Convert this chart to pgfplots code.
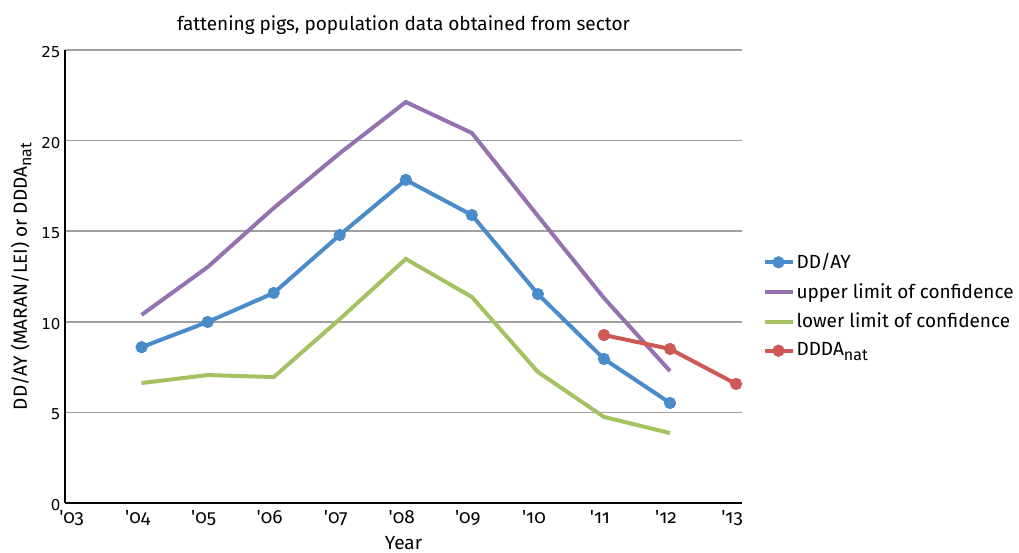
\documentclass[border=0pt]{standalone}
\usepackage{fontspec}
\setmainfont{Fira Sans}
\newfontfamily\osf{Fira Sans}[Numbers=OldStyle]
\newfontfamily\dv{DejaVu Sans}
\usepackage{pgfplots}
\pgfplotsset{compat=1.18}
\definecolor{cblue}{RGB}{74,139,201}
\definecolor{cpurple}{RGB}{148,114,178}
\definecolor{cgreen}{RGB}{164,194,98}
\definecolor{cred}{RGB}{208,88,84}
\definecolor{cgrid}{RGB}{160,160,160}
\newcommand{\nat}{\raisebox{-0.45ex}{\fontsize{16}{18}\selectfont nat}}
\begin{document}
\begin{tikzpicture}
\fontsize{19}{22}\selectfont
\begin{axis}[
  name=ax,
  scale only axis,
  width=677pt, height=453pt,
  xmin=2.84, xmax=13.09, ymin=0, ymax=25,
  axis lines=left,
  axis line style={black, line width=1.3pt, -},
  xtick={3,...,13},
  xticklabels={\textquotesingle03,\textquotesingle04,\textquotesingle05,\textquotesingle06,\textquotesingle07,\textquotesingle08,\textquotesingle09,\textquotesingle10,\textquotesingle11,\textquotesingle12,\textquotesingle13},
  xticklabel style={font=\osf\fontsize{19}{22}\selectfont, anchor=north, xshift=-4pt, yshift=-1pt},
  ytick={0,5,...,25},
  yticklabel style={font=\dv\fontsize{15}{17}\selectfont, anchor=east, xshift=2pt, yshift=-2pt},
  major tick length=0pt,
  ymajorgrids,
  grid style={cgrid, line width=1.6pt},
  /pgf/number format/assume math mode=true,
  title={fattening pigs, population data obtained from sector},
  title style={font=\fontsize{19}{22}\selectfont, yshift=3pt},
  xlabel={Year},
  xlabel style={font=\fontsize{19}{22}\selectfont, yshift=2pt},
  ylabel={DD/AY (MARAN/LEI) or DDDA\nat},
  ylabel style={font=\fontsize{19}{22}\selectfont, yshift=-3pt},
  legend style={draw=none, fill=none, at={(1.03,0.435)}, anchor=west, font=\fontsize{19}{22}\selectfont, row sep=8pt, inner sep=0pt},
  legend cell align=left,
  legend image code/.code={\draw[#1, line width=4pt] (0pt,0pt) -- (28pt,0pt); \draw[#1] plot coordinates {(14pt,0pt)};},
  every axis plot/.append style={line width=4pt},
  clip=false,
]
\addplot[cblue, mark=*, mark size=4pt] coordinates {(4,8.6) (5,9.99) (6,11.59) (7,14.79) (8,17.83) (9,15.89) (10,11.53) (11,7.95) (12,5.52)};
\addlegendentry{DD/AY}
\addplot[cpurple, no marks] coordinates {(4,10.38) (5,13.02) (6,16.28) (7,19.3) (8,22.13) (9,20.42) (10,15.84) (11,11.31) (12,7.28)};
\addlegendentry{upper limit of confidence}
\addplot[cgreen, no marks] coordinates {(4,6.62) (5,7.06) (6,6.95) (7,10.15) (8,13.47) (9,11.37) (10,7.23) (11,4.75) (12,3.86)};
\addlegendentry{lower limit of confidence}
\addplot[cred, mark=*, mark size=4pt] coordinates {(11,9.27) (12,8.5) (13,6.57)};
\addlegendentry{DDDA\nat}
\end{axis}
\pgfresetboundingbox
\path[use as bounding box] ([shift={(-65pt,-50pt)}]ax.south west) rectangle ([shift={(277pt,50pt)}]ax.north east);
\end{tikzpicture}
\end{document}
